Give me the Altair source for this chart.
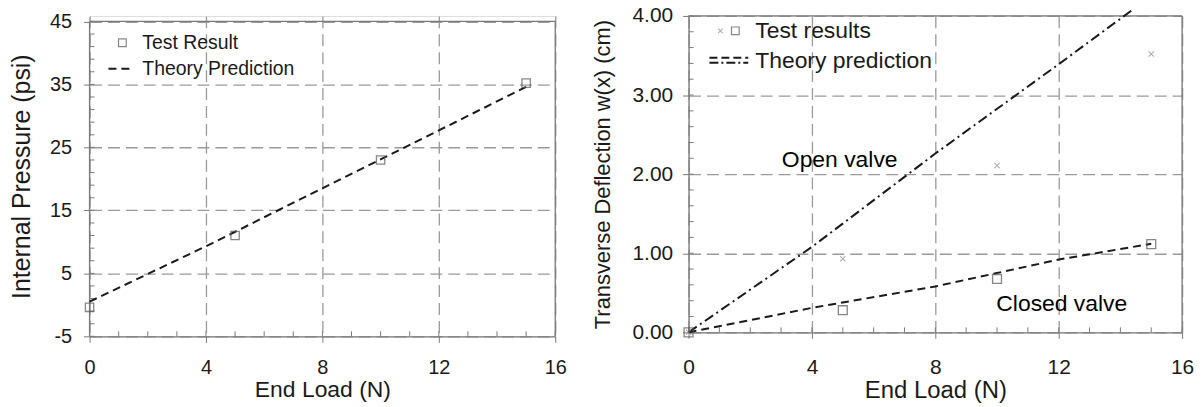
import altair as alt
import pandas as pd

FONT = "Liberation Sans"
GRID = "#9a9a9a"
AXC = "#7a7a7a"
INK = "#1a1a1a"

# ---------------- Left panel data ----------------
load_test_left = [0, 5, 10, 15]
pressure_test = [-0.4, 11.0, 23.0, 35.2]
load_theory_left = [0, 4, 8, 12, 15]
pressure_theory = [0.5, 9.3, 18.5, 27.7, 34.6]
left_x_ticks = [0, 4, 8, 12, 16]
left_y_ticks = [-5, 5, 15, 25, 35, 45]
left_x_minor = [0, 1, 2, 3, 4, 5, 6, 7, 8, 9, 10, 11, 12, 13, 14, 15, 16]
left_y_minor = [-5, -3, -1, 1, 3, 5, 7, 9, 11, 13, 15, 17, 19, 21, 23, 25,
                27, 29, 31, 33, 35, 37, 39, 41, 43, 45]
left_x_range = [0, 16]
left_y_range = [-5, 45]
left_legend = ["Test Result", "Theory Prediction"]

# ---------------- Right panel data ----------------
load_test_right = [0, 5, 10, 15]
defl_open_test = [0.0, 0.93, 2.11, 3.52]
defl_closed_test = [0.0, 0.28, 0.675, 1.115]
load_open_theory = [0, 4, 8, 12, 14.4]
defl_open_theory = [0.0, 1.08, 2.26, 3.39, 4.08]
load_closed_theory = [0, 4, 8, 12, 15]
defl_closed_theory = [0.0, 0.31, 0.58, 0.92, 1.12]
right_x_ticks = [0, 4, 8, 12, 16]
right_y_ticks = [0, 1, 2, 3, 4]
right_x_minor = [0, 1, 2, 3, 4, 5, 6, 7, 8, 9, 10, 11, 12, 13, 14, 15, 16]
right_y_minor = [0, 0.2, 0.4, 0.6, 0.8, 1, 1.2, 1.4, 1.6, 1.8, 2, 2.2, 2.4,
                 2.6, 2.8, 3, 3.2, 3.4, 3.6, 3.8, 4]
right_x_range = [0, 16]
right_y_range = [0, 4]
right_legend = ["Test results", "Theory prediction"]
annot_text = ["Open valve", "Closed valve"]
annot_x = [4.9, 12.1]
annot_y = [2.18, 0.36]

LW, LH = 468, 322
RW, RH = 496, 318
LEFT_TOP = 45.87   # left plot frame sits a few px lower than the right one

CROSS = "M-1,-1L1,1M-1,1L1,-1"


def axis(values, title, lsize, tsize, tpad, lpad, fmt=None, domain=True, expr=None):
    kw = dict(values=values, title=title, grid=True, gridDash=[12, 6],
              gridColor=GRID, gridWidth=1.3, tickSize=6, tickColor=AXC,
              domain=domain, domainColor=AXC, domainWidth=1.3, labelFont=FONT,
              titleFont=FONT, labelFontSize=lsize, titleFontSize=tsize,
              titleFontWeight="normal", labelColor=INK, titleColor=INK,
              titlePadding=tpad, labelPadding=lpad, labelFlush=False,
              labelOverlap=False)
    if fmt:
        kw["format"] = fmt
    if expr:
        kw["labelExpr"] = expr
    return alt.Axis(**kw)


def one(t):
    return pd.DataFrame({"t": [t]})


# ---------------- Left chart ----------------
lxs = alt.Scale(domain=[0, 16], nice=False, zero=False)
lys = alt.Scale(domain=[-5, LEFT_TOP], nice=False, zero=False)
lxax = axis(left_x_ticks, "End Load (N)", 20, 23, 1, 15)
lyax = axis(left_y_ticks, "Internal Pressure (psi)", 20, 25, 15, 12,
            domain=False, expr="'' + datum.value")

X = lambda s, a: alt.X("x:Q", scale=s, axis=a)
Y = lambda s, a: alt.Y("y:Q", scale=s, axis=a)

df_lt = pd.DataFrame({"x": load_theory_left, "y": pressure_theory})
df_ls = pd.DataFrame({"x": load_test_left, "y": pressure_test})
df_lxm = pd.DataFrame({"x": left_x_minor})
df_lym = pd.DataFrame({"y": left_y_minor})

l_frame_v = alt.Chart(pd.DataFrame({"x": left_x_range, "y": [left_y_range[0]] * 2,
                                    "y2": [left_y_range[1]] * 2})).mark_rule(
    color=AXC, strokeWidth=1.3).encode(x=X(lxs, lxax), y=Y(lys, lyax), y2="y2:Q")
l_frame_h = alt.Chart(pd.DataFrame({"x": [left_x_range[0]], "x2": [left_x_range[1]],
                                    "y": [left_y_range[1]]})).mark_rule(
    color=AXC, strokeWidth=1.3).encode(x=X(lxs, lxax), x2="x2:Q", y=Y(lys, lyax))
l_theory = alt.Chart(df_lt).mark_line(color=INK, strokeWidth=2, strokeDash=[8, 5]).encode(
    x=X(lxs, lxax), y=Y(lys, lyax))
l_pts = alt.Chart(df_ls).mark_point(shape="square", filled=False, size=70,
                                     color="#555", strokeWidth=1.3).encode(
    x=X(lxs, lxax), y=Y(lys, lyax))
l_xmin = alt.Chart(df_lxm).mark_rule(color=AXC, strokeWidth=1).encode(
    x=X(lxs, lxax), y=alt.value(LH), y2=alt.value(LH - 5))
l_ymin = alt.Chart(df_lym).mark_rule(color=AXC, strokeWidth=1).encode(
    y=Y(lys, lyax), x=alt.value(0), x2=alt.value(5))

l_leg_pt = alt.Chart(one(left_legend[0])).mark_point(
    shape="square", filled=False, size=60, color="#555", strokeWidth=1.2).encode(
    x=alt.value(33), y=alt.value(27))
l_leg_t1 = alt.Chart(one(left_legend[0])).mark_text(
    align="left", baseline="middle", font=FONT, fontSize=19.5, color=INK).encode(
    x=alt.value(53), y=alt.value(27), text="t:N")
l_leg_ln = alt.Chart(one(left_legend[1])).mark_rule(
    color=INK, strokeWidth=2, strokeDash=[8, 5]).encode(
    x=alt.value(19), x2=alt.value(44), y=alt.value(53))
l_leg_t2 = alt.Chart(one(left_legend[1])).mark_text(
    align="left", baseline="middle", font=FONT, fontSize=19.5, color=INK).encode(
    x=alt.value(53), y=alt.value(53), text="t:N")

left = alt.layer(l_xmin, l_ymin, l_frame_v, l_frame_h, l_theory, l_pts,
                 l_leg_pt, l_leg_t1, l_leg_ln, l_leg_t2).properties(width=LW, height=LH)

# ---------------- Right chart ----------------
rxs = alt.Scale(domain=[0, 16], nice=False, zero=False)
rys = alt.Scale(domain=[0, 4], nice=False, zero=False)
rxax = axis(right_x_ticks, "End Load (N)", 21, 24, 1, 18)
ryax = axis(right_y_ticks, "Transverse Deflection w(x) (cm)", 21, 22, 18, 10, fmt=".2f")

df_ro = pd.DataFrame({"x": load_open_theory, "y": defl_open_theory})
df_rc = pd.DataFrame({"x": load_closed_theory, "y": defl_closed_theory})
df_rxo = pd.DataFrame({"x": load_test_right, "y": defl_open_test})
df_rsq = pd.DataFrame({"x": load_test_right, "y": defl_closed_test})
df_rxm = pd.DataFrame({"x": right_x_minor})
df_rym = pd.DataFrame({"y": right_y_minor})
df_ann = pd.DataFrame({"x": annot_x, "y": annot_y, "t": annot_text})

r_frame_v = alt.Chart(pd.DataFrame({"x": [right_x_range[1]], "y": [right_y_range[0]],
                                    "y2": [right_y_range[1]]})).mark_rule(
    color=AXC, strokeWidth=1.3).encode(x=X(rxs, rxax), y=Y(rys, ryax), y2="y2:Q")
r_frame_h = alt.Chart(pd.DataFrame({"x": [right_x_range[0]], "x2": [right_x_range[1]],
                                    "y": [right_y_range[1]]})).mark_rule(
    color=AXC, strokeWidth=1.3).encode(x=X(rxs, rxax), x2="x2:Q", y=Y(rys, ryax))
r_open = alt.Chart(df_ro).mark_line(color=INK, strokeWidth=2, strokeDash=[10, 4, 2, 4],
                                    clip=False).encode(x=X(rxs, rxax), y=Y(rys, ryax))
r_closed = alt.Chart(df_rc).mark_line(color=INK, strokeWidth=2, strokeDash=[8, 5]).encode(
    x=X(rxs, rxax), y=Y(rys, ryax))
r_cross = alt.Chart(df_rxo).mark_point(shape=CROSS, size=28, color="#8a8a8a",
                                       strokeWidth=1.1, filled=False).encode(
    x=X(rxs, rxax), y=Y(rys, ryax))
r_sq = alt.Chart(df_rsq).mark_point(shape="square", filled=False, size=80, color="#555",
                                    strokeWidth=1.3).encode(x=X(rxs, rxax), y=Y(rys, ryax))
r_xmin = alt.Chart(df_rxm).mark_rule(color=AXC, strokeWidth=1).encode(
    x=X(rxs, rxax), y=alt.value(RH), y2=alt.value(RH - 5))
r_ymin = alt.Chart(df_rym).mark_rule(color=AXC, strokeWidth=1).encode(
    y=Y(rys, ryax), x=alt.value(0), x2=alt.value(5))
r_ann = alt.Chart(df_ann).mark_text(font=FONT, fontSize=23, color="#000",
                                    align="center", baseline="middle").encode(
    x=X(rxs, rxax), y=Y(rys, ryax), text="t:N")

r_leg_x = alt.Chart(one(right_legend[0])).mark_point(
    shape=CROSS, size=20, color="#8a8a8a", strokeWidth=1.1, filled=False).encode(
    x=alt.value(32), y=alt.value(15))
r_leg_sq = alt.Chart(one(right_legend[0])).mark_point(
    shape="square", filled=False, size=60, color="#555", strokeWidth=1.2).encode(
    x=alt.value(47), y=alt.value(15))
r_leg_t1 = alt.Chart(one(right_legend[0])).mark_text(
    align="left", baseline="middle", font=FONT, fontSize=23, color=INK).encode(
    x=alt.value(67), y=alt.value(15), text="t:N")
r_leg_l1 = alt.Chart(one(right_legend[1])).mark_rule(
    color=INK, strokeWidth=2, strokeDash=[8, 4]).encode(
    x=alt.value(21), x2=alt.value(60), y=alt.value(42))
r_leg_l2 = alt.Chart(one(right_legend[1])).mark_rule(
    color=INK, strokeWidth=2, strokeDash=[9, 3, 2, 3]).encode(
    x=alt.value(21), x2=alt.value(60), y=alt.value(47))
r_leg_t2 = alt.Chart(one(right_legend[1])).mark_text(
    align="left", baseline="middle", font=FONT, fontSize=23, color=INK).encode(
    x=alt.value(67), y=alt.value(45), text="t:N")

right = alt.layer(r_xmin, r_ymin, r_frame_v, r_frame_h, r_closed, r_open, r_cross, r_sq,
                  r_ann, r_leg_x, r_leg_sq, r_leg_t1, r_leg_l1, r_leg_l2,
                  r_leg_t2).properties(width=RW, height=RH)

chart = alt.hconcat(left, right, spacing=23).properties(
    padding={"left": 9, "top": 3, "right": 6, "bottom": 0}
).configure_view(stroke=None).configure(background="white")

chart.save("out.html", embed_options={"renderer": "svg", "actions": False})
